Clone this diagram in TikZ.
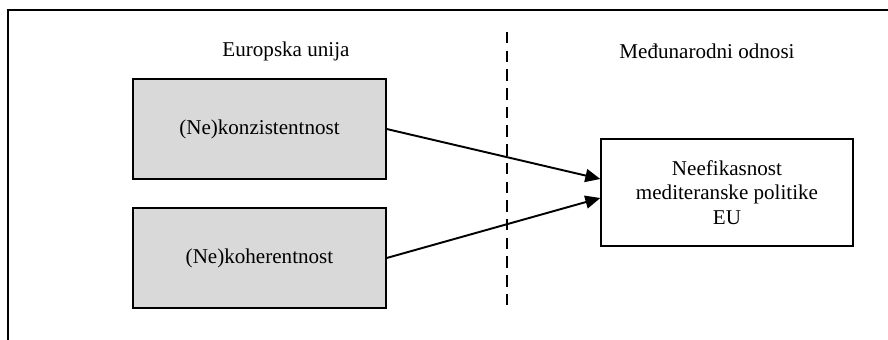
\documentclass[tikz,border=0pt]{standalone}
\usepackage{fontspec}
\setmainfont{Liberation Serif}
\usetikzlibrary{arrows.meta}
\definecolor{boxgray}{RGB}{217,217,217}
\begin{document}
\begin{tikzpicture}[line join=miter,>={Triangle[length=0.3cm,width=0.26cm]},x=0.02cm,y=-0.02cm,font=\fontsize{12}{14}\selectfont,
cause/.style={draw=black,fill=boxgray,line width=0.8pt,minimum width=5.06cm,minimum height=2cm},
effect/.style={draw=black,fill=white,line width=0.8pt,minimum width=5.04cm,minimum height=2.14cm,align=center}]
\useasboundingbox (0,0) rectangle (888,340);
\draw[line width=1.1pt] (8,340) -- (8,10) -- (888,10);
\draw[line width=1.3pt,dash pattern=on 0.23cm off 0.144cm] (507,32) -- (507,305);
\node (eu) at (286,51) {Europska unija};
\node (mo) at (707,51) {Međunarodni odnosi};
\node[cause] (konz) at (259.5,129) {(Ne)konzistentnost};
\node[cause] (koh) at (259.5,258) {(Ne)koherentnost};
\node[effect] (neef) at (727,192.5) {Neefikasnost\\mediteranske politike\\EU};
\draw[->,line width=1.1pt] (konz.east) -- ([yshift=0.27cm]neef.west);
\draw[->,line width=1.1pt] (koh.east) -- ([yshift=-0.11cm]neef.west);
\end{tikzpicture}
\end{document}
